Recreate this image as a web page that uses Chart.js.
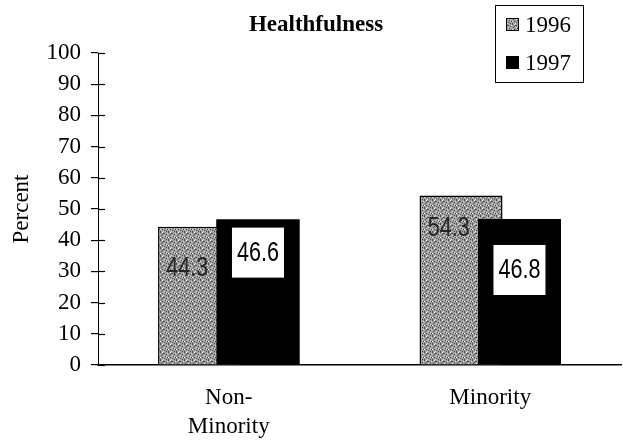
<!DOCTYPE html>
<html>
<head>
<meta charset="utf-8">
<script src="https://cdn.jsdelivr.net/npm/chart.js@4"></script>
<style>
  body { margin: 0; background: #fff; }
  canvas { display: block; }
</style>
</head>
<body>
<canvas id="chart" width="623" height="447"></canvas>
<script>
// Data
const categories = [["Non-", "Minority"], "Minority"];
const years = ["1996", "1997"];
const values1996 = [44.3, 54.3];
const values1997 = [46.6, 46.8];
const yTicks = [0, 10, 20, 30, 40, 50, 60, 70, 80, 90, 100];

const serif = "'Liberation Serif', 'DejaVu Serif', serif";
const sans = "'Liberation Sans', Arial, sans-serif";

// stippled gray fill like the scanned print
function makeStipple() {
    const c = document.createElement("canvas");
    c.width = 8; c.height = 8;
    const g = c.getContext("2d");
    g.fillStyle = "#a2a2a2";
    g.fillRect(0, 0, 8, 8);
    const dark = [[0,0],[3,1],[6,2],[1,3],[5,4],[2,5],[7,5],[4,6],[0,7],[6,7],[4,1],[2,2]];
    const light = [[2,0],[7,1],[4,3],[0,5],[3,7],[6,4]];
    g.fillStyle = "#4a4a4a";
    dark.forEach(p => g.fillRect(p[0], p[1], 1, 1));
    g.fillStyle = "#dedede";
    light.forEach(p => g.fillRect(p[0], p[1], 1, 1));
    return g.createPattern(c, "repeat");
}

// narrow sans text (no condensed face installed, so squeeze it)
function narrowText(c, text, x, y) {
    c.save();
    c.translate(x, y);
    c.scale(0.8, 1);
    c.fillText(text, 0, 0);
    c.restore();
}

document.addEventListener("DOMContentLoaded", function () {
    const ctx = document.getElementById("chart").getContext("2d");
    const stipple = makeStipple();

    // 1997 bars overlap the 1996 bars, then title, legend box, ticks, labels
    const decorations = {
        id: "decorations",
        afterDatasetsDraw(chart) {
            const c = chart.ctx;
            const y = chart.scales.y;
            const m96 = chart.getDatasetMeta(0);
            const m97 = chart.getDatasetMeta(1);
            m97.controller.draw();
            c.save();

            // tick marks crossing into the plot
            c.strokeStyle = "#000";
            c.lineWidth = 1.2;
            yTicks.forEach(t => {
                const py = Math.round(y.getPixelForValue(t)) + 0.5;
                c.beginPath();
                c.moveTo(y.right, py);
                c.lineTo(y.right + 7, py);
                c.stroke();
            });

            // 1997 labels in white boxes
            const boxDrop = [8, 26];
            c.font = "27px " + sans;
            c.textAlign = "center";
            c.textBaseline = "middle";
            m97.data.forEach((bar, i) => {
                const top = bar.y + boxDrop[i];
                c.fillStyle = "#fff";
                c.fillRect(bar.x - 26, top, 52, 50);
                c.fillStyle = "#000";
                narrowText(c, values1997[i].toFixed(1), bar.x, top + 26);
            });

            // 1996 labels on the visible part of the gray bars
            const textDrop = [42, 33];
            c.fillStyle = "#262626";
            m96.data.forEach((bar, i) => {
                const left = bar.x - bar.width / 2;
                const right = m97.data[i].x - m97.data[i].width / 2;
                narrowText(c, values1996[i].toFixed(1), (left + right) / 2, bar.y + textDrop[i]);
            });

            // title
            c.font = "bold 23px " + serif;
            c.fillStyle = "#000";
            c.fillText("Healthfulness", 316, 25);

            // legend box
            c.strokeStyle = "#000";
            c.lineWidth = 1;
            c.strokeRect(495.5, 5.5, 88, 77);
            c.font = "23px " + serif;
            c.textAlign = "left";
            const fills = [stipple, "#000"];
            years.forEach((yr, i) => {
                const cy = 25 + i * 38;
                c.fillStyle = fills[i];
                c.fillRect(506, cy - 7, 13, 13);
                c.strokeStyle = "#000";
                c.strokeRect(506.5, cy - 6.5, 12, 12);
                c.fillStyle = "#000";
                c.fillText(yr, 525, cy + 1);
            });
            c.restore();
        }
    };

    new Chart(ctx, {
        type: "bar",
        data: {
            labels: categories,
            datasets: [
                {
                    label: years[0],
                    data: values1996,
                    backgroundColor: stipple,
                    borderColor: "#000",
                    borderWidth: 1.5
                },
                {
                    label: years[1],
                    data: values1997,
                    backgroundColor: "#000",
                    borderColor: "#000",
                    borderWidth: 0
                }
            ]
        },
        options: {
            responsive: false,
            animation: false,
            layout: { padding: { top: 53, right: 2, left: 0, bottom: 0 } },
            categoryPercentage: 0.447,
            barPercentage: 1.42,
            plugins: {
                legend: { display: false },
                title: { display: false },
                tooltip: { enabled: false }
            },
            scales: {
                x: {
                    grid: { drawOnChartArea: false, drawTicks: false },
                    border: { color: "#000", width: 1.5 },
                    ticks: {
                        color: "#000",
                        padding: 19,
                        font: { family: serif, size: 23, lineHeight: 1.25 },
                        maxRotation: 0
                    },
                    afterFit(scale) { scale.height = 82; }
                },
                y: {
                    min: 0,
                    max: 100,
                    afterBuildTicks(scale) { scale.ticks = yTicks.map(v => ({ value: v })); },
                    grid: { drawOnChartArea: false, tickLength: 7, color: "#000", lineWidth: 1.2 },
                    border: { color: "#000", width: 1, dash: [4, 2] },
                    ticks: {
                        color: "#000",
                        padding: 10,
                        font: { family: serif, size: 23 }
                    },
                    title: {
                        display: true,
                        text: "Percent",
                        color: "#000",
                        font: { family: serif, size: 23 },
                        padding: { top: 8, bottom: 4 }
                    },
                    afterFit(scale) { scale.width = 98; }
                }
            }
        },
        plugins: [decorations]
    });
});
</script>
</body>
</html>
